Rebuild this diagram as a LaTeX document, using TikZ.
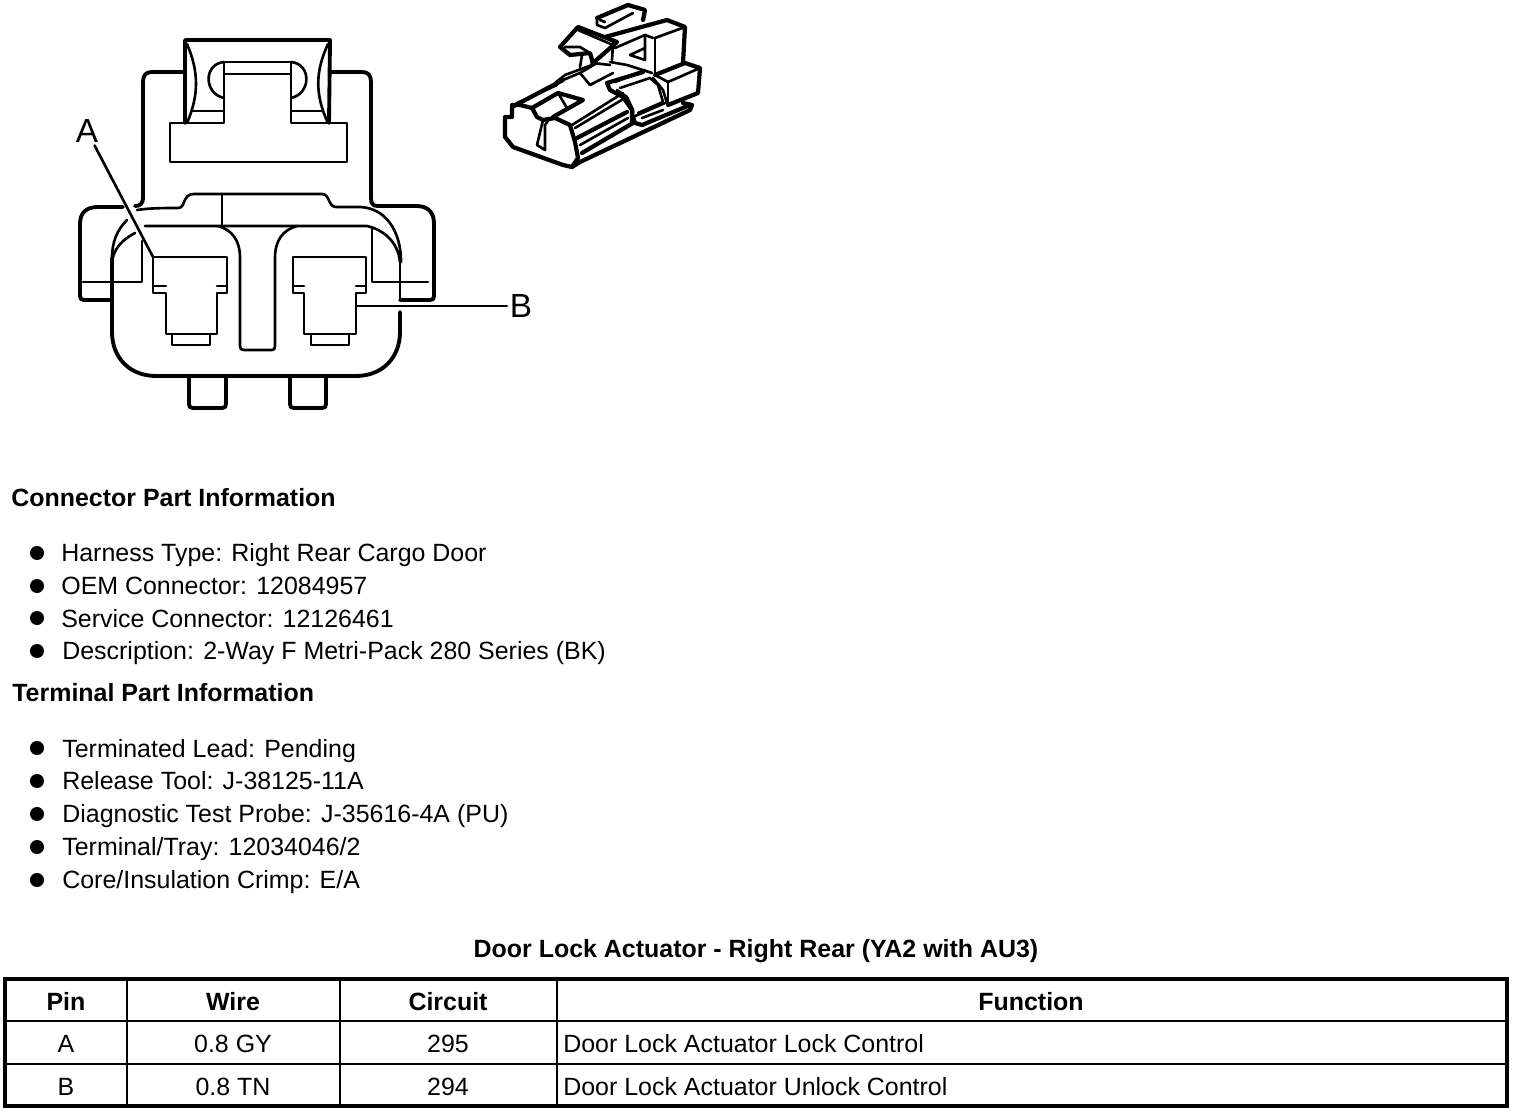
\documentclass[tikz,border=0pt]{standalone}
\usepackage{fontspec}
\setmainfont{Liberation Sans}
\tikzset{
  thick line/.style={line width=2.2pt,line join=round,line cap=round},
  mid line/.style={line width=1.5pt,line join=round,line cap=round},
  view line/.style={line width=1.5pt,line join=round,line cap=round},
  view heavy/.style={line width=2.4pt,line join=round,line cap=round},
  thin line/.style={line width=1pt,line join=round},
  plain text/.style={font=\fontsize{14.2}{16}\selectfont,inner sep=0pt},
  line text/.style={plain text,anchor=base west},
  bold text/.style={plain text,anchor=base west,font=\fontsize{14.2}{16}\selectfont\bfseries},
  cell text/.style={plain text,anchor=base},
  cell head/.style={cell text,font=\fontsize{14.2}{16}\selectfont\bfseries},
  pin label/.style={font=\fontsize{19}{21}\selectfont,inner sep=1.5pt},
  dot/.style={circle,fill=black,minimum size=8pt,inner sep=0pt},
}
\begin{document}
\begin{tikzpicture}[x=0.02cm,y=-0.02cm]
\useasboundingbox (0,0) rectangle (1520,1114);

% latch housing
\draw[thick line] (185,123) -- (185,40) -- (330,40) -- (329,123);
\draw[mid line] (187,44) .. controls (199,72) and (199,95) .. (187,123);
\draw[mid line] (328,44) .. controls (315,72) and (315,95) .. (328,123);
\draw[thick line] (143,197) -- (143,82) .. controls (143,75) and (146,72) .. (152,72) -- (185,72);
\draw[thick line] (330,72) -- (362,72) .. controls (368,72) and (371,75) .. (371,82) -- (371,198) .. controls (371,204) and (373,206) .. (378,206);
\draw[mid line] (170,123) -- (224,123) -- (224,62) -- (291,62) -- (291,123) -- (347,123) -- (347,162) -- (170,162) -- cycle;
\draw[mid line] (224,74) -- (291,74);
\draw[mid line] (192,111) -- (224,111) (291,111) -- (322,111);
\draw[mid line] (224,62) .. controls (203,64) and (204,94) .. (224,98);
\draw[mid line] (291,62) .. controls (312,64) and (311,94) .. (291,98);

% ears
\draw[thick line] (123,207) -- (98,207) .. controls (86,207) and (80,213) .. (80,224) -- (80,296) .. controls (80,299) and (81,300) .. (84,300) -- (111,300);
\draw[thick line] (143,197) .. controls (143,204) and (140,206) .. (135,206);
\draw[thick line] (378,206) -- (416,206) .. controls (428,206) and (434,212) .. (434,224) -- (434,296) .. controls (434,299) and (433,300) .. (430,300) -- (400,300);
\draw[mid line] (83,282) -- (112,282) -- (142,282) -- (142,241);
\draw[mid line] (428,282) -- (372,282) -- (372,229);

% shell
\draw[mid line] (137,210) .. controls (150,208) and (165,208) .. (178,208) .. controls (186,208) and (182,194) .. (194,194) -- (322,194) .. controls (330,194) and (328,207) .. (336,207) -- (360,207) .. controls (385,208) and (401,230) .. (401,262);
\draw[mid line] (127,220) .. controls (117,230) and (112,242) .. (112,258);
\draw[mid line] (135,233) .. controls (122,240) and (114,248) .. (112,262);
\draw[mid line] (145,226) -- (367,226) .. controls (384,230) and (398,242) .. (400,262);
\draw[mid line] (222,194) -- (222,226);
\draw[mid line] (218,226) .. controls (232,230) and (240,240) .. (240,258) -- (240,346) .. controls (240,349) and (241,350) .. (244,350) -- (272,350) .. controls (274,350) and (275,349) .. (275,346) -- (275,258) .. controls (275,240) and (283,230) .. (297,226);
\draw[thick line] (112,258) -- (112,332) .. controls (112,358) and (130,376) .. (156,376) -- (356,376) .. controls (382,376) and (400,358) .. (400,332) -- (400,312);
\draw[mid line] (400,262) -- (400,300);

% tabs under the shell
\draw[thick line] (189,376) -- (189,404) .. controls (189,407) and (190,408) .. (193,408) -- (222,408) .. controls (225,408) and (226,407) .. (226,404) -- (226,376);
\draw[thick line] (290,376) -- (290,404) .. controls (290,407) and (291,408) .. (294,408) -- (322,408) .. controls (325,408) and (326,407) .. (326,404) -- (326,376);

% terminals
\draw[mid line] (153,257) -- (227,257) -- (227,293) -- (217,293) -- (217,334) -- (166,334) -- (166,293) -- (153,293) -- cycle;
\draw[mid line] (153,286) -- (166,286) (217,286) -- (227,286);
\draw[mid line] (172,334) -- (172,345) -- (210,345) -- (210,334);
\draw[mid line] (293,257) -- (366,257) -- (366,293) -- (356,293) -- (356,334) -- (304,334) -- (304,293) -- (293,293) -- cycle;
\draw[mid line] (293,286) -- (304,286) (356,286) -- (366,286);
\draw[mid line] (311,334) -- (311,345) -- (349,345) -- (349,334);

% pin labels
\coordinate (pinA) at (153,257);
\coordinate (pinB) at (356,306);
\node[pin label] (lblA) at (87,131) {A};
\node[pin label] (lblB) at (521,306) {B};
\draw[mid line] (lblA) -- (pinA);
\draw[mid line] (lblB) -- (pinB);

% small view, front end
\draw[view heavy] (512,107) -- (512,117) -- (505,117) -- (505,137) -- (513,147) -- (563,165) -- (572,167) -- (580,162) -- (690,110) -- (692,105) -- (683,103);
\draw[view heavy] (512,107) -- (563,80);
\draw[view heavy] (512,105) -- (520,105) -- (532,108) -- (537,117) -- (543,120) -- (555,118) -- (570,125) -- (575,142) -- (578,158) -- (572,167);
\draw[view line] (517,103) -- (557,85);
\draw[view heavy] (532,108) -- (558,93) -- (583,100) -- (553,117);
\draw[view line] (558,93) -- (567,108);
\draw[view line] (543,120) -- (537,145) -- (545,150) -- (545,125) -- (550,118);
% ribs
\draw[view line] (572,125) -- (623,93);
\draw[view line] (575,128) -- (625,98);
\draw[view heavy] (577,138) -- (627,112);
\draw[view line] (580,145) -- (628,118);
\draw[view heavy] (582,153) -- (633,123);
% strap and lower block
\draw[view heavy] (607,83) -- (610,90) -- (623,97) -- (632,110) -- (632,123);
\draw[view line] (617,90) -- (627,97) -- (633,110) -- (633,120);
\draw[view heavy] (607,83) -- (643,72);
\draw[view line] (615,82) -- (645,70);
\draw[view line] (620,88) -- (650,78) -- (658,85) -- (663,102) -- (638,113);
\draw[view line] (653,78) -- (663,90) -- (667,103);
\draw[view line] (633,117) -- (665,103);
\draw[view heavy] (633,117) -- (635,123) -- (642,125) -- (690,105);
\draw[view line] (642,118) -- (663,110);
% right block
\draw[view heavy] (655,75) -- (685,63) -- (700,68) -- (698,93) -- (668,105);
\draw[view line] (668,82) -- (700,68);
\draw[view line] (668,82) -- (668,105);
\draw[view line] (655,75) -- (668,82);
% upper block
\draw[view heavy] (597,18) -- (628,5) -- (645,10) -- (643,20);
\draw[view line] (597,18) -- (597,25) -- (605,28) -- (633,13);
\draw[view line] (600,20) -- (605,22);
% latch
\draw[view heavy] (560,47) -- (578,27) -- (617,42) -- (593,63) -- (590,53) -- (570,55) -- (560,47);
\draw[view line] (565,47) -- (580,47) -- (590,53);
\draw[view line] (578,30) -- (613,45);
\draw[view line] (582,55) -- (580,67);
\draw[view line] (590,53) -- (592,65) -- (565,75) -- (555,83);
% big block and window
\draw[view heavy] (605,37) -- (667,20) -- (685,27) -- (683,63);
\draw[view line] (655,38) -- (685,27);
\draw[view line] (655,38) -- (655,75);
\draw[view line] (615,48) -- (645,35) -- (653,38);
\draw[view line] (645,35) -- (645,60) -- (630,55) -- (645,48);
\draw[view line] (613,43) -- (612,60);
\draw[view line] (610,62) -- (627,65) -- (652,73);
% tray
\draw[view line] (580,73) -- (590,85) -- (613,73);
\draw[view line] (580,73) -- (597,63);
\draw[view line] (593,63) -- (610,65);
\draw[view line] (563,80) -- (580,73);

% connector part
\node[bold text] (hdConn) at (11,506) {Connector Part Information};
\node[dot] (dotA) at (37,553) {};
\node[line text] (txtA) at (61,561) {Harness Type: Right Rear Cargo Door};
\node[dot] (dotB) at (37,586) {};
\node[line text] (txtB) at (61,594) {OEM Connector: 12084957};
\node[dot] (dotC) at (37,618) {};
\node[line text] (txtC) at (61,627) {Service Connector: 12126461};
\node[dot] (dotD) at (37,651) {};
\node[line text] (txtD) at (62,659) {Description: 2-Way F Metri-Pack 280 Series (BK)};

% terminal part
\node[bold text] (hdTerm) at (12,701) {Terminal Part Information};
\node[dot] (dotE) at (37,748) {};
\node[line text] (txtE) at (62,757) {Terminated Lead: Pending};
\node[dot] (dotF) at (37,781) {};
\node[line text] (txtF) at (62,789) {Release Tool: J-38125-11A};
\node[dot] (dotG) at (37,814) {};
\node[line text] (txtG) at (62,822) {Diagnostic Test Probe: J-35616-4A (PU)};
\node[dot] (dotH) at (37,847) {};
\node[line text] (txtH) at (62,855) {Terminal/Tray: 12034046/2};
\node[dot] (dotI) at (37,880) {};
\node[line text] (txtI) at (62,888) {Core/Insulation Crimp: E/A};

% table
\node[cell head] (title) at (756,957) {Door Lock Actuator - Right Rear (YA2 with AU3)};
\draw[line width=2pt] (5,979) rectangle (1507,1106);
\draw[line width=1.5pt] (5,1021) -- (1507,1021);
\draw[thin line] (5,1064) -- (1507,1064);
\draw[thin line] (127,979) -- (127,1106) (340,979) -- (340,1106) (557,979) -- (557,1106);
\node[cell head] (hPin) at (66,1010) {Pin};
\node[cell head] (hWire) at (233,1010) {Wire};
\node[cell head] (hCircuit) at (448,1010) {Circuit};
\node[cell head] (hFunc) at (1031,1010) {Function};
\node[cell text] (pinRowA) at (66,1052) {A};
\node[cell text] (wireRowA) at (233,1052) {0.8 GY};
\node[cell text] (circRowA) at (448,1052) {295};
\node[line text] (funcRowA) at (563,1052) {Door Lock Actuator Lock Control};
\node[cell text] (pinRowB) at (66,1095) {B};
\node[cell text] (wireRowB) at (233,1095) {0.8 TN};
\node[cell text] (circRowB) at (448,1095) {294};
\node[line text] (funcRowB) at (563,1095) {Door Lock Actuator Unlock Control};
\end{tikzpicture}
\end{document}
